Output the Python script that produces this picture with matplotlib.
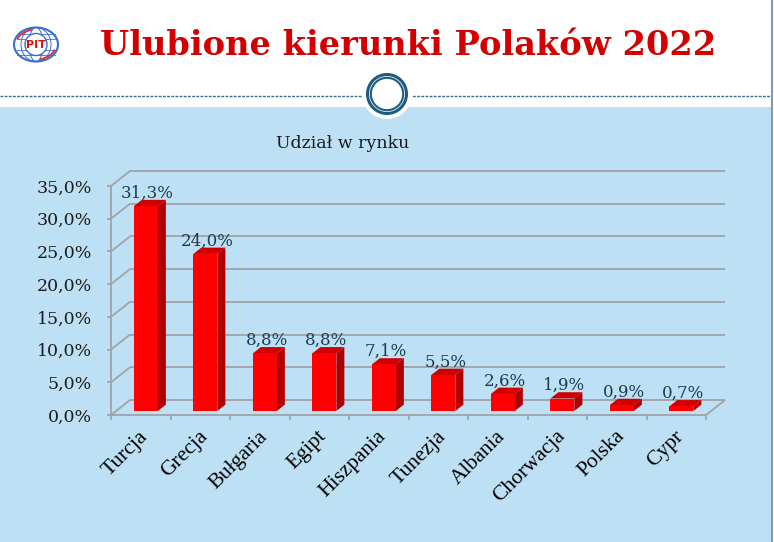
import matplotlib
matplotlib.use('Agg')
import matplotlib.pyplot as plt
from matplotlib.patches import Polygon, Circle, Ellipse, Rectangle, Arc

# data
countries = ['Turcja', 'Grecja', 'Bułgaria', 'Egipt', 'Hiszpania',
             'Tunezja', 'Albania', 'Chorwacja', 'Polska', 'Cypr']
shares = [31.3, 24.0, 8.8, 8.8, 7.1, 5.5, 2.6, 1.9, 0.9, 0.7]
y_ticks = [0, 5, 10, 15, 20, 25, 30, 35]

title = 'Ulubione kierunki Polaków 2022'
subtitle = 'Udział w rynku'

W, H = 774, 542
BLUE_BG = '#BEE0F4'
RED_TITLE = '#D20000'
GRID = '#9FA3A6'


def pct(v):
    return f'{v:.1f}%'.replace('.', ',')


fig = plt.figure(figsize=(W / 100, H / 100), dpi=100)

# ---- slide background (pixel coordinates) ----
bg = fig.add_axes([0, 0, 1, 1])
bg.set_xlim(0, W)
bg.set_ylim(H, 0)
bg.axis('off')
bg.add_patch(Rectangle((0, 107), 771, H - 107, fc=BLUE_BG, ec='none', zorder=0))
bg.plot([771.5, 771.5], [0, H], color='#7F9CB2', lw=1.5, zorder=1)
bg.plot([0, 771], [96, 96], color='#2E6E8E', lw=1, ls=(0, (2, 1)), zorder=1)
bg.add_patch(Circle((387, 94), 25, fc='white', ec='none', zorder=2))
bg.add_patch(Circle((387, 94), 19.5, fc='none', ec='#1D5C80', lw=2.2, zorder=3))
bg.add_patch(Circle((387, 94), 16.2, fc='none', ec='#1D5C80', lw=1.5, zorder=3))

# logo
lc = '#3a6fd0'
bg.add_patch(Ellipse((36, 44.5), 44, 34, fc='white', ec=lc, lw=1.5, zorder=2))
for w in [30, 14]:
    bg.add_patch(Ellipse((36, 44.5), w, 34, fc='none', ec=lc, lw=0.7, zorder=2))
for yy in [34, 39, 50, 55]:
    bg.plot([17, 55], [yy, yy], color=lc, lw=0.6, zorder=2)
bg.add_patch(Arc((36, 44.5), 40, 30, theta1=15, theta2=75, ec='#e03030', lw=1.3, zorder=2))
bg.add_patch(Arc((36, 44.5), 40, 30, theta1=195, theta2=255, ec='#e03030', lw=1.3, zorder=2))
bg.add_patch(Circle((36, 44.5), 11, fc='white', ec=lc, lw=1, zorder=3))
bg.text(36, 45, 'PIT', color='#e01010', fontsize=8, fontweight='bold',
        family='DejaVu Sans', ha='center', va='center', zorder=4)

# title, fitted to its width on the slide
t = bg.text(100, 55, title, color=RED_TITLE, family='DejaVu Serif',
            fontweight='bold', fontsize=24, ha='left', va='baseline', zorder=4)
fig.canvas.draw()
wpx = t.get_window_extent().width
t.set_fontsize(24 * 618 / wpx)

# ---- chart (front plane in data coordinates) ----
x0, x1, y0, y1 = 111, 706, 415, 186
ax = fig.add_axes([x0 / W, (H - y0) / H, (x1 - x0) / W, (y0 - y1) / H])
n = len(countries)
ax.set_xlim(-0.5, n - 0.5)
ax.set_ylim(0, 35)
ax.axis('off')

px_x = (x1 - x0) / n          # pixels per category
px_y = (y0 - y1) / 35         # pixels per percent
DX, DY = 19 / px_x, 15 / px_y  # depth of the 3D box
Z0, Z1 = 0.27, 0.69            # bar front / back depth
BW = 24 / px_x

kw = dict(color=GRID, lw=1.3, clip_on=False, zorder=1, solid_capstyle='butt')
for v in y_ticks:
    ax.plot([-0.5 + DX, n - 0.5 + DX], [v + DY, v + DY], **kw)
    ax.plot([-0.5, -0.5 + DX], [v, v + DY], **kw)
    ax.plot([-0.5 - 4 / px_x, -0.5], [v, v], **kw)
    ax.text(-0.5 - 19 / px_x, v - 2 / px_y, pct(v), ha='right', va='center',
            family='DejaVu Serif', fontsize=12.5, color='#1c1c1c')
ax.plot([-0.5, -0.5], [0, 35], **kw)
ax.plot([-0.5, n - 0.5], [0, 0], **kw)
ax.plot([n - 0.5, n - 0.5 + DX], [0, DY], **kw)
for b in range(n + 1):
    ax.plot([b - 0.5, b - 0.5], [0, -5 / px_y], **kw)

for i, (c, v) in enumerate(zip(countries, shares)):
    xl, xr = i - BW / 2, i + BW / 2
    front = [(xl + Z0 * DX, Z0 * DY), (xr + Z0 * DX, Z0 * DY),
             (xr + Z0 * DX, v + Z0 * DY), (xl + Z0 * DX, v + Z0 * DY)]
    top = [(xl + Z0 * DX, v + Z0 * DY), (xr + Z0 * DX, v + Z0 * DY),
           (xr + Z1 * DX, v + Z1 * DY), (xl + Z1 * DX, v + Z1 * DY)]
    side = [(xr + Z0 * DX, Z0 * DY), (xr + Z1 * DX, Z1 * DY),
            (xr + Z1 * DX, v + Z1 * DY), (xr + Z0 * DX, v + Z0 * DY)]
    ax.add_patch(Polygon(side, fc='#B00000', ec='none', clip_on=False, zorder=3))
    ax.add_patch(Polygon(top, fc='#D00000', ec='none', clip_on=False, zorder=3))
    ax.add_patch(Polygon(front, fc='#FF0000', ec='none', clip_on=False, zorder=3))
    ax.text(i + Z0 * DX + 0.03, v + Z1 * DY + 2 / px_y, pct(v), ha='center',
            va='baseline', family='DejaVu Serif', fontsize=12,
            color='#1E3A50', zorder=4)
    ax.text(i - 2 / px_x, -12 / px_y, c, rotation=45, rotation_mode='anchor',
            ha='right', va='top', family='Liberation Serif', fontsize=15.5,
            color='black')

ax.text(3.4, 35 + 43 / px_y, subtitle, ha='center',
        va='center', family='DejaVu Serif', fontsize=12.5, color='#1a1a1a')

fig.savefig('out.png', dpi=100)
